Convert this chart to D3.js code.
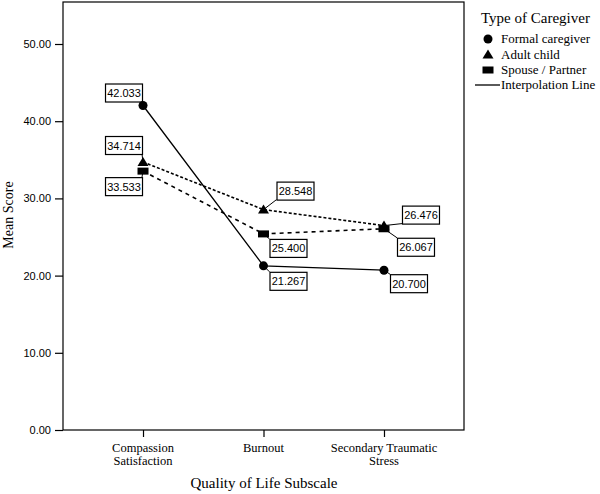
<!DOCTYPE html>
<html><head><meta charset="utf-8">
<script src="https://cdn.jsdelivr.net/npm/d3@7"></script>
<style>body{margin:0;background:#fff}svg{display:block}</style>
</head><body>
<script>
const categories = ["Compassion Satisfaction", "Burnout", "Secondary Traumatic Stress"];
const categoryLines = [["Compassion", "Satisfaction"], ["Burnout"], ["Secondary Traumatic", "Stress"]];
const seriesNames = ["Formal caregiver", "Adult child", "Spouse / Partner"];
const formalValues = [42.033, 21.267, 20.700];
const adultValues = [34.714, 28.548, 26.476];
const spouseValues = [33.533, 25.400, 26.067];
const yTicks = [0, 10, 20, 30, 40, 50];

// label box placement (pixel offsets from point: left, top)
const labelPlacement = {
  "Formal caregiver": [[-38, -22], [6, 6], [6, 4]],
  "Adult child": [[-38, -26], [13, -28], [18, -20]],
  "Spouse / Partner": [[-38, 6], [6, 5], [13, 9]]
};

const SERIF = "'Liberation Serif', 'Times New Roman', serif";
const SANS = "'Liberation Sans', Arial, sans-serif";
const W = 600, H = 494;
const svg = d3.select("body").append("svg").attr("width", W).attr("height", H);
const pLeft = 63, pRight = 464, pTop = 2, pBottom = 430;
const y = d3.scaleLinear().domain([0, 50]).range([pBottom, 44]);
const x = d3.scalePoint().domain(categories).range([pLeft, pRight]).padding(0.664);

const series = [
  {name: seriesNames[0], values: formalValues, shape: "circle", dash: null},
  {name: seriesNames[1], values: adultValues, shape: "triangle", dash: "3,2"},
  {name: seriesNames[2], values: spouseValues, shape: "rect", dash: "4,4"}
];

// frame
svg.append("rect").attr("x", pLeft).attr("y", pTop).attr("width", pRight - pLeft).attr("height", pBottom - pTop)
  .attr("fill", "none").attr("stroke", "#000").attr("stroke-width", 1.2);

// y axis
const yAxis = svg.append("g").attr("transform", `translate(${pLeft},0)`)
  .call(d3.axisLeft(y).tickValues(yTicks).tickFormat(d3.format(".2f")).tickSize(8).tickPadding(4));
yAxis.select(".domain").remove();
yAxis.selectAll("line").attr("stroke", "#000").attr("stroke-width", 1.2);
yAxis.selectAll("text").attr("font-family", SANS).attr("font-size", 11).attr("fill", "#000");

// x axis
const xAxis = svg.append("g").attr("transform", `translate(0,${pBottom})`)
  .call(d3.axisBottom(x).tickSize(7).tickFormat(""));
xAxis.select(".domain").remove();
xAxis.selectAll("line").attr("stroke", "#000").attr("stroke-width", 1.2);
categories.forEach((c, i) => {
  categoryLines[i].forEach((ln, j) => {
    svg.append("text").attr("x", x(c)).attr("y", 452 + j * 13).attr("text-anchor", "middle")
      .attr("font-family", SERIF).attr("font-size", 12.5).text(ln);
  });
});

// axis titles
svg.append("text").attr("x", 264).attr("y", 488).attr("text-anchor", "middle")
  .attr("font-family", SERIF).attr("font-size", 15).text("Quality of Life Subscale");
svg.append("text").attr("transform", "translate(13,215) rotate(-90)").attr("text-anchor", "middle")
  .attr("font-family", SERIF).attr("font-size", 14).text("Mean Score");

// lines
const line = d3.line().x((d, i) => x(categories[i])).y(d => y(d));
series.forEach(s => {
  svg.append("path").attr("d", line(s.values)).attr("fill", "none").attr("stroke", "#000")
    .attr("stroke-width", s.dash ? 1.6 : 1.3).attr("stroke-dasharray", s.dash);
});

function drawMarker(g, shape, cx, cy) {
  if (shape === "circle") g.append("circle").attr("cx", cx).attr("cy", cy).attr("r", 4.5).attr("fill", "#000");
  else if (shape === "triangle") g.append("path").attr("d", `M${cx},${cy - 5}L${cx + 5.5},${cy + 4}L${cx - 5.5},${cy + 4}Z`).attr("fill", "#000");
  else g.append("rect").attr("x", cx - 5.5).attr("y", cy - 3.5).attr("width", 11).attr("height", 7).attr("fill", "#000");
}

// labels and markers
const lbl = svg.append("g");
const mk = svg.append("g");
series.forEach(s => {
  s.values.forEach((v, i) => {
    const px = x(categories[i]), py = y(v);
    const [dx, dy] = labelPlacement[s.name][i];
    const bw = 37, bh = 18;
    const bx = px + dx, by = py + dy;
    const nx = Math.max(bx, Math.min(px, bx + bw)), ny = Math.max(by, Math.min(py, by + bh));
    lbl.append("line").attr("x1", px).attr("y1", py).attr("x2", nx).attr("y2", ny).attr("stroke", "#000").attr("stroke-width", 1);
    lbl.append("rect").attr("x", bx + 0.5).attr("y", by + 0.5).attr("width", bw).attr("height", bh)
      .attr("fill", "#fff").attr("stroke", "#000").attr("stroke-width", 1.2);
    lbl.append("text").attr("x", bx + bw / 2 + 0.5).attr("y", by + 13.5).attr("text-anchor", "middle")
      .attr("font-family", SANS).attr("font-size", 11).text(d3.format(".3f")(v));
    drawMarker(mk, s.shape, px, py);
  });
});

// legend
const lg = svg.append("g").attr("font-family", SERIF);
lg.append("text").attr("x", 481).attr("y", 23).attr("font-size", 15).text("Type of Caregiver");
series.forEach((s, i) => {
  const cy = 39 + i * 15.5;
  drawMarker(lg, s.shape, 488, cy);
  lg.append("text").attr("x", 501).attr("y", cy + 4).attr("font-size", 13).text(s.name);
});
lg.append("line").attr("x1", 475).attr("x2", 500).attr("y1", 85).attr("y2", 85).attr("stroke", "#000").attr("stroke-width", 1.3);
lg.append("text").attr("x", 501).attr("y", 89).attr("font-size", 13).text("Interpolation Line");
</script>
</body></html>
